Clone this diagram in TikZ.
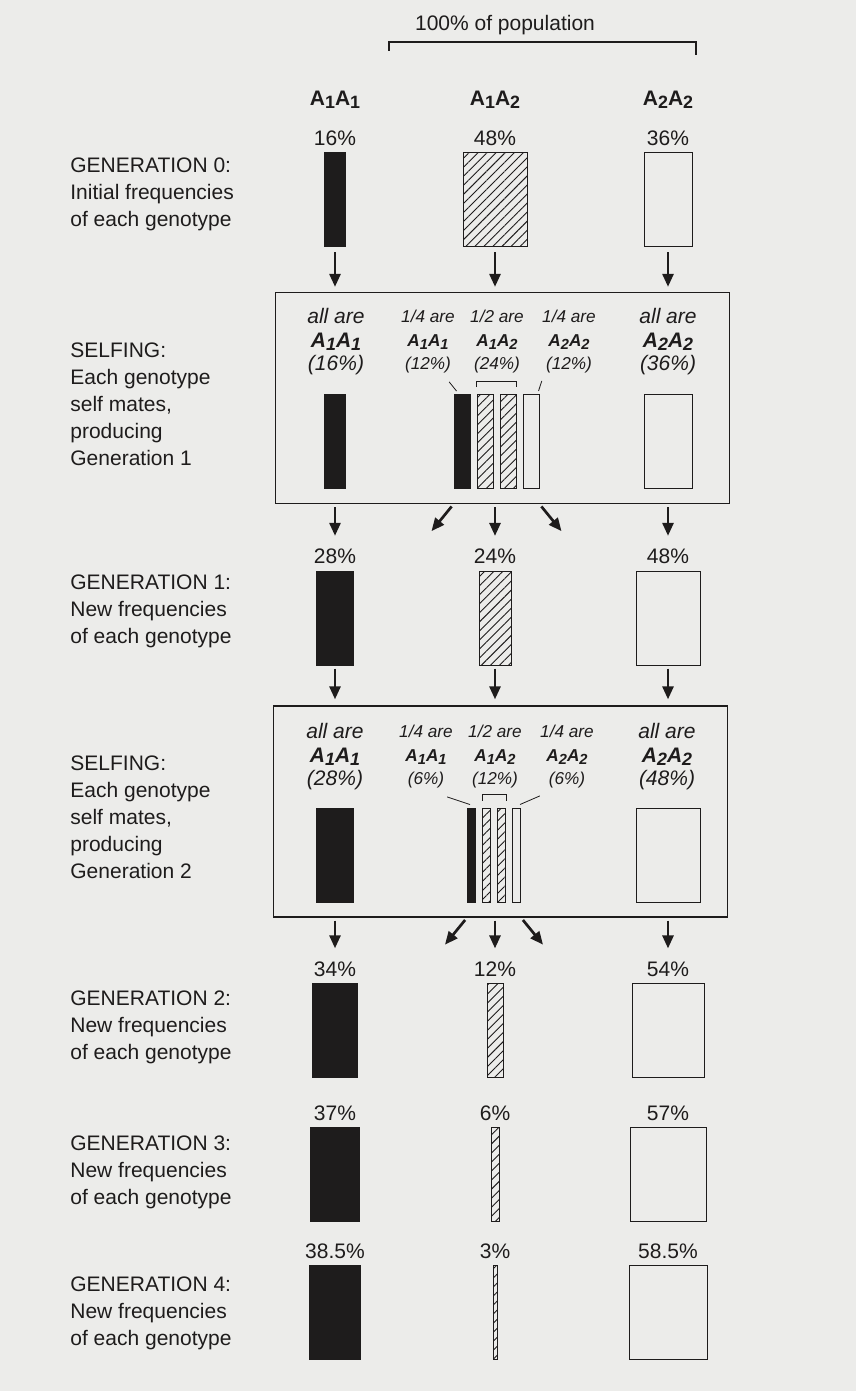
\documentclass[tikz,border=0pt]{standalone}
\usepackage{fontspec}
\setmainfont{Liberation Sans}
\usepackage{tikz}
\usetikzlibrary{arrows.meta,positioning,calc,patterns.meta}
\definecolor{paper}{RGB}{236,236,234}
\definecolor{ink}{RGB}{30,28,28}
\newcommand{\geno}[2]{A\raisebox{-.3ex}{\scalebox{.85}{#1}}A\raisebox{-.3ex}{\scalebox{.85}{#2}}}
\newcommand{\dsize}{\fontsize{10.5}{13.5}\selectfont}
\newcommand{\bsize}{\fontsize{10.5}{11.75}\selectfont}
\newcommand{\msize}{\fontsize{8.6}{11.75}\selectfont}

\begin{document}
\begin{tikzpicture}[x=0.5pt,y=-0.5pt,>={Triangle[length=6.5pt,width=5.5pt]},
  every node/.style={font=\dsize,inner sep=0pt,text=ink},
  genbar/.style={draw=ink,line width=0.5pt,minimum width=#1*0.6667pt,minimum height=47pt},
  blackbar/.style={genbar=#1,fill=ink},
  hatchbar/.style={genbar=#1,pattern={Lines[angle=45,distance=3.2pt,line width=0.45pt]},pattern color=ink},
  whitebar/.style={genbar=#1},
  pct/.style={above=3pt of #1},
  gentext/.style={anchor=west,align=left},
  selfbox/.style={draw=ink,line width=0.65pt,minimum width=227pt,minimum height=105.5pt},
  allcol/.style={align=center,font=\bsize\itshape},
  partcol/.style={align=center,font=\msize\itshape},
  flow/.style={->,draw=ink,line width=1.35pt},
  leader/.style={draw=ink,line width=0.4pt}]
\useasboundingbox (0,0) rectangle (856,1391);
\fill[paper] (0,0) rectangle (856,1391);

\node (title) at (505,25) {100\% of population};
\draw[ink,line width=0.6pt] (389,51) |- (696,42) -- (696,55);
\node[font=\dsize\bfseries] (h11) at (335,100) {\geno11};
\node[font=\dsize\bfseries] (h12) at (495,100) {\geno12};
\node[font=\dsize\bfseries] (h22) at (668,100) {\geno22};

% generation 0
\node[gentext] (t0) at (70,194) {GENERATION 0:\\Initial frequencies\\of each genotype};
\node[blackbar=16] (g0a) at (335,200) {};
\node[hatchbar=48] (g0b) at (495,200) {};
\node[whitebar=36] (g0c) at (668,200) {};
\node[pct=g0a] (p0a) {16\%};
\node[pct=g0b] (p0b) {48\%};
\node[pct=g0c] (p0c) {36\%};

% first selfing
\node[selfbox] (box1) at (502.5,398) {};
\node[gentext] (s1) at (70,404) {SELFING:\\Each genotype\\self mates,\\producing\\Generation 1};
\node[allcol] (l1a) at (336,342) {all are\\\textbf{\geno11}\\(16\%)};
\node[partcol] (l1b) at (428,342) {1/4 are\\\textbf{\geno11}\\(12\%)};
\node[partcol] (l1c) at (497,342) {1/2 are\\\textbf{\geno12}\\(24\%)};
\node[partcol] (l1d) at (569,342) {1/4 are\\\textbf{\geno22}\\(12\%)};
\node[allcol] (l1e) at (668,342) {all are\\\textbf{\geno22}\\(36\%)};
\node[blackbar=16] (b1a) at (335,441.5) {};
\node[blackbar=12] (q1a) at (462,441.5) {};
\node[hatchbar=12,right=3pt of q1a] (q1b) {};
\node[hatchbar=12,right=3pt of q1b] (q1c) {};
\node[whitebar=12,right=3pt of q1c] (q1d) {};
\node[whitebar=36] (b1c) at (668,441.5) {};
\draw[leader] ($(l1b.south east)+(-6,8)$) -- ($(q1a.north west)+(3,-3)$);
\draw[leader] ($(l1d.south west)+(0,7)$) -- ($(q1d.north east)+(-1,-3)$);
\draw[leader] ($(q1b.north west)+(0,-7)$) -- ++(0,-6) -| ($(q1c.north east)+(0,-7)$);
\foreach \gb in {g0a,g0b,g0c}
  \draw[flow,shorten <=2.5pt,shorten >=2.5pt] (\gb.south) -- (\gb.south |- box1.north);

% generation 1
\node[gentext] (t1) at (70,611) {GENERATION 1:\\New frequencies\\of each genotype};
\node[blackbar=28] (g1a) at (335,618) {};
\node[hatchbar=24] (g1b) at (495,618) {};
\node[whitebar=48] (g1c) at (668,618) {};
\node[pct=g1a] (p1a) {28\%};
\node[pct=g1b] (p1b) {24\%};
\node[pct=g1c] (p1c) {48\%};
\foreach \c in {a,b,c}
  \draw[flow,shorten <=1.5pt,shorten >=6.5pt] (box1.south -| g1\c) -- (p1\c.north);
\coordinate (e1l) at ($(box1.south -| q1a.west)+(-22,27)$);
\coordinate (e1r) at ($(box1.south -| q1d.east)+(22,27)$);
\draw[flow,shorten <=1.5pt] (box1.south -| q1a.west) -- (e1l);
\draw[flow,shorten <=1.5pt] (box1.south -| q1d.east) -- (e1r);

% second selfing
\node[selfbox] (box2) at (500.5,811.5) {};
\node[gentext] (s2) at (70,817) {SELFING:\\Each genotype\\self mates,\\producing\\Generation 2};
\node[allcol] (l2a) at (335,757) {all are\\\textbf{\geno11}\\(28\%)};
\node[partcol] (l2b) at (426,757) {1/4 are\\\textbf{\geno11}\\(6\%)};
\node[partcol] (l2c) at (495,757) {1/2 are\\\textbf{\geno12}\\(12\%)};
\node[partcol] (l2d) at (567,757) {1/4 are\\\textbf{\geno22}\\(6\%)};
\node[allcol] (l2e) at (667,757) {all are\\\textbf{\geno22}\\(48\%)};
\node[blackbar=28] (b2a) at (335,855) {};
\node[blackbar=6] (q2a) at (471.5,855) {};
\node[hatchbar=6,right=3pt of q2a] (q2b) {};
\node[hatchbar=6,right=3pt of q2b] (q2c) {};
\node[whitebar=6,right=3pt of q2c] (q2d) {};
\node[whitebar=48] (b2c) at (668,855) {};
\draw[leader] ($(l2b.south east)+(-6,8)$) -- ($(q2a.north west)+(3,-3)$);
\draw[leader] ($(l2d.south west)+(0,7)$) -- ($(q2d.north east)+(-1,-3)$);
\draw[leader] ($(q2b.north west)+(0,-7)$) -- ++(0,-6) -| ($(q2c.north east)+(0,-7)$);
\foreach \gb in {g1a,g1b,g1c}
  \draw[flow,shorten <=1.5pt,shorten >=3pt] (\gb.south) -- (\gb.south |- box2.north);

% generation 2
\node[gentext] (t2) at (70,1027) {GENERATION 2:\\New frequencies\\of each genotype};
\node[blackbar=34] (g2a) at (335,1030.5) {};
\node[hatchbar=12] (g2b) at (495,1030.5) {};
\node[whitebar=54] (g2c) at (668,1030.5) {};
\node[pct=g2a] (p2a) {34\%};
\node[pct=g2b] (p2b) {12\%};
\node[pct=g2c] (p2c) {54\%};
\foreach \c in {a,b,c}
  \draw[flow,shorten <=1.5pt,shorten >=6.5pt] (box2.south -| g2\c) -- (p2\c.north);
\coordinate (e2l) at ($(box2.south -| q2a.west)+(-22,27)$);
\coordinate (e2r) at ($(box2.south -| q2d.east)+(22,27)$);
\draw[flow,shorten <=1.5pt] (box2.south -| q2a.west) -- (e2l);
\draw[flow,shorten <=1.5pt] (box2.south -| q2d.east) -- (e2r);

% generation 3
\node[gentext] (t3) at (70,1172) {GENERATION 3:\\New frequencies\\of each genotype};
\node[blackbar=37] (g3a) at (335,1174.5) {};
\node[hatchbar=6] (g3b) at (495,1174.5) {};
\node[whitebar=57] (g3c) at (668,1174.5) {};
\node[pct=g3a] (p3a) {37\%};
\node[pct=g3b] (p3b) {6\%};
\node[pct=g3c] (p3c) {57\%};

% generation 4
\node[gentext] (t4) at (70,1313) {GENERATION 4:\\New frequencies\\of each genotype};
\node[blackbar=38.5] (g4a) at (335,1312.5) {};
\node[hatchbar=3] (g4b) at (495,1312.5) {};
\node[whitebar=58.5] (g4c) at (668,1312.5) {};
\node[pct=g4a] (p4a) {38.5\%};
\node[pct=g4b] (p4b) {3\%};
\node[pct=g4c] (p4c) {58.5\%};
\end{tikzpicture}
\end{document}
